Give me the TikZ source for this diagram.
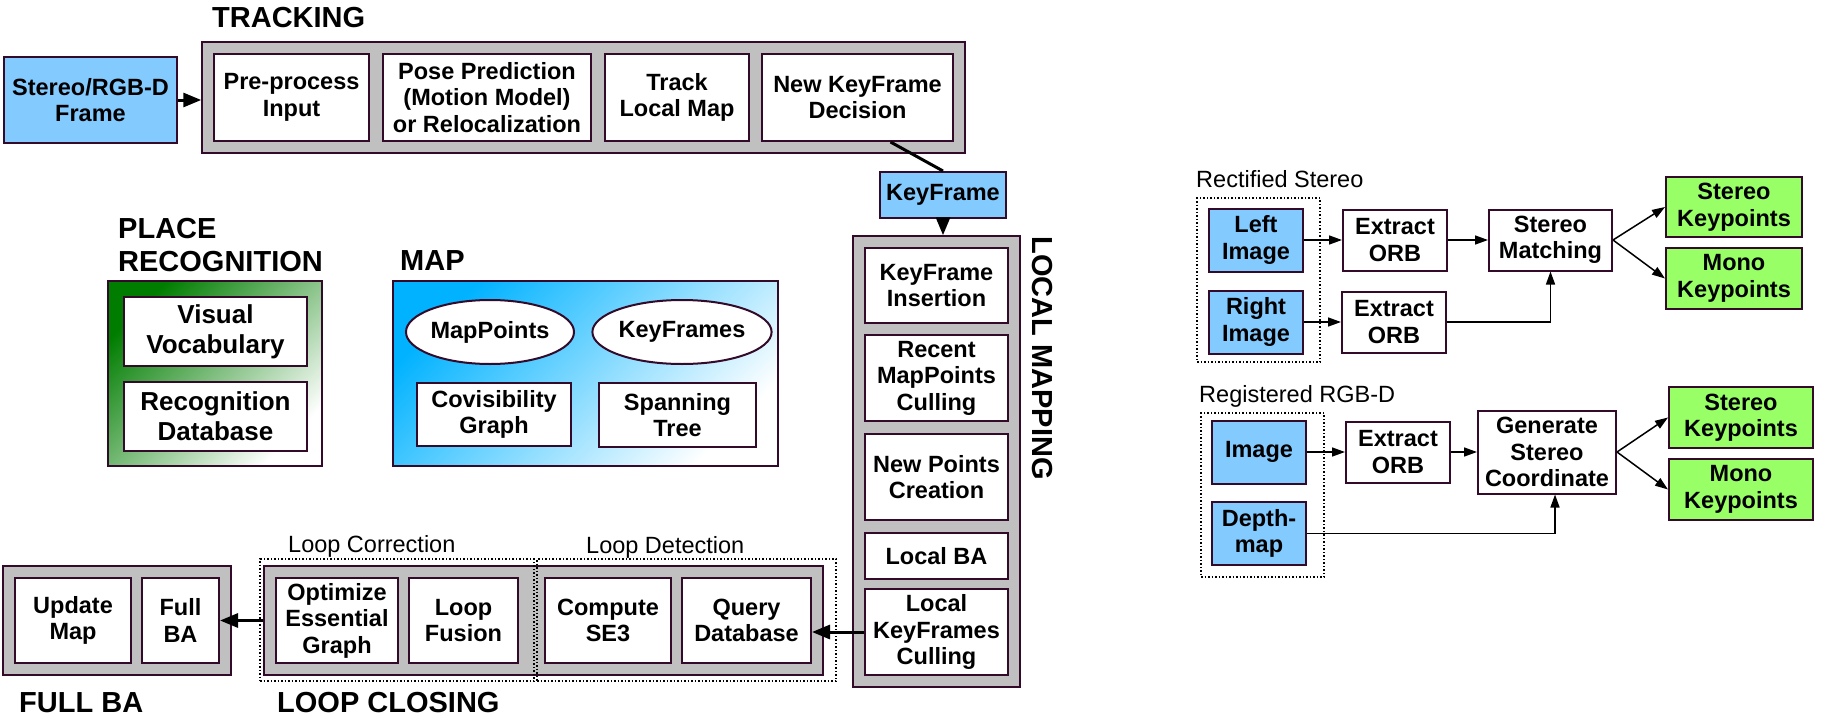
\documentclass[tikz,border=0pt]{standalone}
\usepackage{fontspec}
\setmainfont{Liberation Sans}
\usetikzlibrary{positioning,fit,backgrounds,shapes.geometric,arrows.meta}

\definecolor{edgec}{RGB}{51,10,41}
\definecolor{framec}{RGB}{131,202,255}
\definecolor{stagec}{RGB}{192,192,192}
\definecolor{kptc}{RGB}{153,255,102}
\definecolor{placec}{RGB}{0,125,0}
\definecolor{mapc}{RGB}{0,178,255}

\tikzset{
  sz/.style 2 args={minimum width=#1pt, minimum height=#2pt},
  box/.style={draw=edgec, line width=2pt, fill=white, align=center, inner sep=1pt,
    font=\bfseries\fontsize{23.5}{26.5}\selectfont},
  input/.style={box, fill=framec},
  kpt/.style={box, fill=kptc},
  blob/.style={box, ellipse, inner sep=0pt},
  word/.style={box, font=\bfseries\fontsize{26}{30}\selectfont},
  stage/.style={draw=edgec, fill=stagec, line width=1.5pt, inner sep=11pt},
  group/.style={draw, dotted, line width=1.5pt},
  title/.style={inner sep=0pt, font=\bfseries\fontsize{29}{33}\selectfont},
  tag/.style={inner sep=0pt, anchor=base west, font=\fontsize{23.5}{26.5}\selectfont},
  link/.style={draw=black, line width=3pt},
  pipe/.style={link, -{Triangle[length=18pt,width=14pt]}},
  flow/.style={draw=black, line width=1.5pt, -{Triangle[length=13pt,width=9pt]}}
}

\begin{document}
\begin{tikzpicture}[x=1pt,y=-1pt]
\useasboundingbox (0,0) rectangle (1830,725);

% tracking
\node[title, anchor=base west] (trackt) at (212,28) {TRACKING};
\node[input, sz={173}{86}] (frame) at (90.5,100) {Stereo/RGB-D\\Frame};
\node[box, sz={155}{87}] (pre) at (291.5,97.5) {Pre-process\\Input};
\node[box, sz={208}{87}, right=12pt of pre] (pose) {Pose Prediction\\(Motion Model)\\or Relocalization};
\node[box, sz={144}{87}, right=12pt of pose] (track) {Track\\Local Map};
\node[box, sz={191}{87}, right=11pt of track] (nkf) {New KeyFrame\\Decision};
\node[input, sz={126}{46}] (kf) at (943,195) {KeyFrame};

% local mapping
\node[box, sz={143}{75}] (kfi) at (936.5,285.5) {KeyFrame\\Insertion};
\node[box, sz={143}{86}, below=10pt of kfi] (rmc) {Recent\\MapPoints\\Culling};
\node[box, sz={143}{86}, below=11pt of rmc] (npc) {New Points\\Creation};
\node[box, sz={143}{46}, below=11pt of npc] (lba) {Local BA};
\node[box, sz={143}{86}, below=8pt of lba] (lkc) {Local\\KeyFrames\\Culling};
\node[title, rotate=-90] (mappingt) at (1042,358) {LOCAL MAPPING};

% loop closing and full BA
\node[box, sz={129}{85}] (qdb) at (746.5,620.5) {Query\\Database};
\node[box, sz={126}{85}, left=9pt of qdb] (cse) {Compute\\SE3};
\node[box, sz={109}{85}, left=25pt of cse] (lf) {Loop\\Fusion};
\node[box, sz={122}{85}, left=9pt of lf] (oeg) {Optimize\\Essential\\Graph};
\node[box, sz={77}{85}] (fba) at (180.5,620.5) {Full\\BA};
\node[box, sz={116}{85}, left=9pt of fba] (um) {Update\\Map};

\begin{scope}[on background layer]
\node[stage, fit=(pre)(nkf)] (tracking) {};
\node[stage, fit=(kfi)(lkc)] (mapping) {};
\node[stage, fit=(oeg)(qdb)] (closing) {};
\node[stage, fit=(um)(fba)] (fullba) {};
\end{scope}

\node[group, sz={274}{122}] (corr) at (397,620) {};
\node[group, sz={299}{122}] (detect) at (686.5,620) {};
\node[tag] (corrt) at (288,552) {Loop Correction};
\node[tag] (detectt) at (586,553) {Loop Detection};
\node[title, anchor=base west] (fullbat) at (19,712) {FULL BA};
\node[title, anchor=base west] (closingt) at (277,712) {LOOP CLOSING};

% place recognition and map
\node[title, align=left, anchor=north west] (placet) at (118,218) {PLACE\\RECOGNITION};
\node[title, anchor=base west] (mapt) at (400,270) {MAP};
\node[draw=edgec, line width=1.5pt, top color=placec, bottom color=white, shading angle=45, sz={214}{185}] (place) at (215,373.5) {};
\node[word, sz={183}{69}] (vv) at (215.5,331.5) {Visual\\Vocabulary};
\node[word, sz={183}{69}] (rdb) at (215.5,416.5) {Recognition\\Database};
\node[draw=edgec, line width=1.5pt, top color=mapc, bottom color=white, shading angle=45, sz={385}{185}] (map) at (585.5,373.5) {};
\node[blob, sz={168}{64}] (mp) at (490,332) {MapPoints};
\node[blob, sz={166}{64}] (kfs) at (682,332) {KeyFrames};
\node[box, sz={154}{63}] (cg) at (494,414.5) {Covisibility\\Graph};
\node[box, sz={157}{64}] (st) at (677.5,415) {Spanning\\Tree};

\draw[pipe] (frame.east) -- (frame.east -| tracking.west);
\draw[link] ([xshift=33pt]nkf.south) -- (kf.north);
\draw[pipe] (kf.south) -- (kf.south |- mapping.north);
\draw[pipe] (lkc.west) -- (lkc.west -| qdb.east);
\draw[pipe] (closing.west) -- (closing.west -| fba.east);

% rectified stereo
\node[tag] (rst) at (1196,187) {Rectified Stereo};
\node[group, sz={123}{164}] (rsg) at (1258.5,280) {};
\node[input, sz={94}{63}] (li) at (1256,240) {Left\\Image};
\node[input, sz={94}{63}] (ri) at (1256,322) {Right\\Image};
\node[box, sz={104}{61}] (eoa) at (1395,240) {Extract\\ORB};
\node[box, sz={104}{61}] (eob) at (1394,322) {Extract\\ORB};
\node[box, sz={123}{61}] (sm) at (1550.5,240) {Stereo\\Matching};
\node[kpt, sz={136}{60}] (ska) at (1734,207) {Stereo\\Keypoints};
\node[kpt, sz={136}{61}] (mka) at (1734,278.5) {Mono\\Keypoints};

\draw[flow] (li) -- (eoa);
\draw[flow] (eoa) -- (sm);
\draw[flow] (ri) -- (eob);
\draw[flow] (eob.east) -| (sm.south);
\draw[flow] (sm.east) -- (ska.west);
\draw[flow] (sm.east) -- (mka.west);

% registered rgb-d
\node[tag] (rgbt) at (1199,402) {Registered RGB-D};
\node[group, sz={123}{164}] (rgbg) at (1262.5,495) {};
\node[input, sz={94}{63}] (img) at (1259,452) {Image};
\node[input, sz={94}{63}] (dm) at (1259,533.5) {Depth-\\map};
\node[box, sz={104}{61}] (eoc) at (1398,452) {Extract\\ORB};
\node[box, sz={138}{83}] (gsc) at (1547,452) {Generate\\Stereo\\Coordinate};
\node[kpt, sz={144}{61}] (skb) at (1741,417.5) {Stereo\\Keypoints};
\node[kpt, sz={144}{61}] (mkb) at (1741,489.5) {Mono\\Keypoints};

\draw[flow] (img) -- (eoc);
\draw[flow] (eoc) -- (gsc);
\draw[flow] (dm.east) -| ([xshift=8pt]gsc.south);
\draw[flow] (gsc.east) -- (skb.west);
\draw[flow] (gsc.east) -- (mkb.west);
\end{tikzpicture}
\end{document}
